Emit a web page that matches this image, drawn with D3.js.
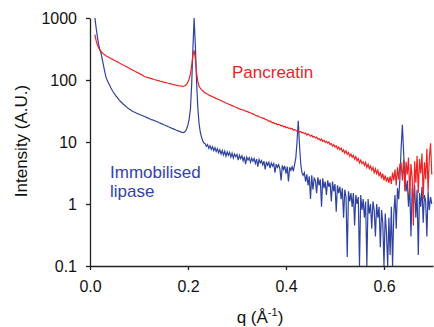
<!DOCTYPE html>
<html>
<head>
<meta charset="utf-8">
<script src="https://cdn.jsdelivr.net/npm/d3@7"></script>
<style>
  body { margin: 0; background: #fff; }
  svg { display: block; font-family: Arial, 'Liberation Sans', sans-serif; }
  .axis path, .axis line { stroke: #222; stroke-width: 1.3; }
  .axis text { font-size: 16px; fill: #111; font-family: Arial, 'Liberation Sans', sans-serif; }
</style>
</head>
<body>
<div id="chart"></div>
<script>
// q sampling of both scans (A^-1)
const qStart = 0.01;
const qStep = 0.0025;

// Immobilised lipase intensity, one value per q step
const lipase = [
  1000, 700, 500, 380, 310, 270, 215, 172, 138, 112,
  100, 90, 82, 75, 69, 64, 60, 56, 53, 50,
  47, 45, 43, 41, 39.5, 38, 36.5, 35, 34, 33,
  32, 31, 30.5, 30, 29, 28.5, 28, 27.5, 27, 26.5,
  26, 25.5, 25, 24.5, 24, 23.5, 23, 22.8, 22.3, 22,
  21.5, 21.2, 20.6, 20.4, 19.8, 19.6, 19, 18.8, 18.3, 18,
  17.6, 17.3, 16.9, 16.6, 16.3, 16, 15.6, 15.4, 15.1, 14.8,
  14.6, 14.3, 14.2, 14.4, 15, 16.5, 19, 24, 34, 85,
  320, 1000, 360, 95, 36, 20, 14.5, 12, 10.5, 9.6,
  9.4, 8.5, 9.1, 7.9, 8.7, 7.6, 8.4, 7.3, 8.1, 7.0,
  7.8, 6.7, 7.5, 6.4, 7.3, 6.2, 7.1, 5.9, 6.9, 6.1,
  6.8, 5.7, 6.6, 5.5, 6.4, 5.8, 6.3, 5.1, 6.1, 5.4,
  6.0, 5.0, 5.8, 4.4, 5.7, 5.1, 5.6, 4.7, 5.5, 4.9,
  5.4, 4.5, 5.3, 4.0, 5.2, 4.6, 5.0, 4.3, 4.9, 3.6,
  4.8, 4.2, 4.7, 3.8, 4.6, 4.1, 4.5, 3.2, 4.4, 3.9,
  4.3, 3.7, 2.4, 4.2, 3.6, 4.1, 3.1, 4.0, 2.3, 3.9,
  3.5, 4.0, 3.4, 4.3, 5.5, 10, 22, 9, 4.5, 3.2,
  2.9, 3.2, 2.3, 3.0, 2.0, 2.8, 1.2, 2.9, 1.7, 2.6,
  2.4, 1.5, 2.7, 2.0, 2.5, 0.9, 2.6, 1.8, 2.3, 1.4,
  2.4, 1.9, 2.2, 1.1, 2.3, 1.6, 2.1, 0.75, 2.0, 1.5,
  1.9, 1.2, 1.8, 0.6, 1.7, 1.3, 0.14, 1.6, 1.1, 1.5,
  0.9, 1.5, 0.45, 1.4, 1.0, 1.3, 0.1, 1.4, 0.8, 1.2,
  0.6, 1.1, 0.1, 1.2, 0.7, 1.0, 0.4, 1.1, 0.8, 0.3,
  1.0, 0.6, 0.9, 0.2, 0.8, 0.5, 0.1, 0.7, 0.35, 0.1,
  0.6, 0.15, 0.9, 0.1, 0.7, 1.4, 0.4, 1.8, 1.2, 2.6,
  8, 19, 7, 2.8, 1.6, 2.4, 0.9, 2.1, 0.3, 1.8,
  1.0, 2.0, 0.6, 1.7, 0.15, 1.5, 0.9, 1.9, 0.5, 1.4,
  1.1, 0.3, 1.6, 0.8, 1.3, 1.0
];

// Pancreatin intensity, same q steps
const pancreatin = [
  540, 430, 370, 330, 305, 288, 275, 264, 255, 247,
  240, 234, 228, 222, 217, 212, 207, 202, 198, 194,
  188, 183.5, 179, 175, 171, 167, 163, 159, 155, 151,
  148, 144, 141, 137, 134, 131, 128, 125, 122, 119,
  115, 113, 111.5, 110, 108.5, 107, 105.5, 104, 102.5, 101,
  100, 98.5, 97.5, 96, 95, 94, 92.5, 91.5, 90.5, 89.5,
  88.5, 87.5, 86.5, 85.5, 84.5, 83.5, 82.5, 82, 81, 80.5,
  80, 79.5, 79, 80, 82, 86, 94, 105, 125, 170,
  250, 300, 220, 130, 95, 80, 74, 70, 67, 64,
  62, 60.5, 59, 57.5, 56, 55, 54, 52.5, 51.5, 50.5,
  49.5, 48.5, 47.5, 46.5, 45.5, 44.5, 43.5, 42.5, 41.8, 41,
  40.2, 39.4, 38.6, 37.8, 37, 36.3, 35.6, 34.9, 34.2, 33.6,
  33.4, 32.6, 32.5, 31.3, 31.2, 30.6, 29.8, 29.6, 28.7, 28.4,
  27.9, 27.0, 26.4, 26.5, 25.4, 25.1, 24.8, 24.0, 24.3, 23.1,
  22.9, 22.4, 21.5, 21.8, 20.9, 20.4, 20.6, 19.7, 19.9, 19.0,
  19.3, 18.9, 18.1, 18.5, 17.6, 17.9, 17.0, 17.3, 16.6, 16.9,
  16.2, 16.5, 15.5, 15.9, 15.4, 14.9, 15.2, 14.4, 14.8, 14.1,
  14.3, 13.6, 13.9, 12.9, 13.5, 13.0, 12.4, 12.9, 12.0, 12.3,
  11.6, 12.0, 11.1, 11.4, 10.6, 11.2, 10.3, 10.7, 9.8, 10.3,
  9.6, 10.0, 9.1, 9.4, 8.6, 9.1, 8.3, 8.7, 7.8, 8.3,
  7.5, 8.0, 7.0, 7.5, 6.6, 7.2, 6.3, 6.8, 5.9, 6.4,
  5.7, 6.1, 5.3, 5.8, 5.0, 5.4, 4.6, 5.1, 4.5, 4.8,
  4.2, 4.7, 3.9, 4.4, 3.7, 4.1, 3.5, 3.9, 3.2, 3.7,
  3.1, 3.5, 2.8, 3.3, 2.6, 3.1, 2.4, 2.9, 2.3, 2.7,
  2.2, 2.8, 2.1, 3.2, 2.4, 3.6, 2.0, 3.9, 2.5, 4.4,
  4.5, 2.4, 5.2, 1.6, 4.8, 3.0, 5.6, 1.4, 4.4, 2.7,
  0.45, 4.9, 2.2, 6.0, 1.5, 5.3, 3.1, 6.5, 1.2, 4.7,
  2.5, 7.8, 1.6, 5.5, 9.5, 3.0
];

const xTicks = [0, 0.2, 0.4, 0.6];
const xTickLabels = ['0.0', '0.2', '0.4', '0.6'];
const yTicks = [0.1, 1, 10, 100, 1000];
const yTickLabels = ['0.1', '1', '10', '100', '1000'];

const width = 434;
const height = 327;
const margin = { top: 18, right: 1, bottom: 61, left: 90 };

const svg = d3.select('#chart').append('svg')
  .attr('width', width)
  .attr('height', height);

const xScale = d3.scaleLinear().domain([0, 0.7]).range([margin.left, width - margin.right]);
const yScale = d3.scaleLog().domain([0.1, 1000]).range([height - margin.bottom, margin.top]);

svg.append('clipPath').attr('id', 'plot')
  .append('rect')
  .attr('x', margin.left)
  .attr('y', margin.top)
  .attr('width', width - margin.right - margin.left)
  .attr('height', height - margin.bottom - margin.top);

const line = d3.line()
  .x((d, i) => xScale(qStart + i * qStep))
  .y(d => yScale(d));

const paths = svg.append('g').attr('clip-path', 'url(#plot)');

paths.append('path')
  .datum(lipase)
  .attr('d', line)
  .attr('fill', 'none')
  .attr('stroke', '#2f42a0')
  .attr('stroke-width', 1.2);

paths.append('path')
  .datum(pancreatin)
  .attr('d', line)
  .attr('fill', 'none')
  .attr('stroke', '#ee2424')
  .attr('stroke-width', 1.2);

// axes
svg.append('g')
  .attr('class', 'axis')
  .attr('transform', `translate(0, ${height - margin.bottom})`)
  .call(d3.axisBottom(xScale)
    .tickValues(xTicks)
    .tickFormat((d, i) => xTickLabels[i])
    .tickSize(4)
    .tickSizeOuter(0)
    .tickPadding(11));

svg.append('g')
  .attr('class', 'axis')
  .attr('transform', `translate(${margin.left}, 0)`)
  .call(d3.axisLeft(yScale)
    .tickValues(yTicks)
    .tickFormat((d, i) => yTickLabels[i])
    .tickSize(4)
    .tickSizeOuter(0)
    .tickPadding(9));

// axis titles
svg.append('text')
  .attr('transform', 'translate(27, 141) rotate(-90)')
  .attr('text-anchor', 'middle')
  .style('font-size', '17px')
  .attr('fill', '#111')
  .text('Intensity (A.U.)');

const xTitle = svg.append('text')
  .attr('x', 260)
  .attr('y', 323)
  .attr('text-anchor', 'middle')
  .style('font-size', '17px')
  .attr('fill', '#111');
xTitle.append('tspan').text('q (Å');
xTitle.append('tspan').attr('dy', -7).style('font-size', '11px').text('-1');
xTitle.append('tspan').attr('dy', 7).text(')');

// series labels
svg.append('text')
  .attr('x', 232)
  .attr('y', 78)
  .style('font-size', '17px')
  .attr('fill', '#e8262a')
  .text('Pancreatin');

const lipaseLabel = svg.append('text')
  .attr('x', 110)
  .attr('y', 178)
  .style('font-size', '17px')
  .attr('fill', '#3343a8');
lipaseLabel.append('tspan').attr('x', 110).text('Immobilised');
lipaseLabel.append('tspan').attr('x', 110).attr('dy', 19).text('lipase');
</script>
</body>
</html>
